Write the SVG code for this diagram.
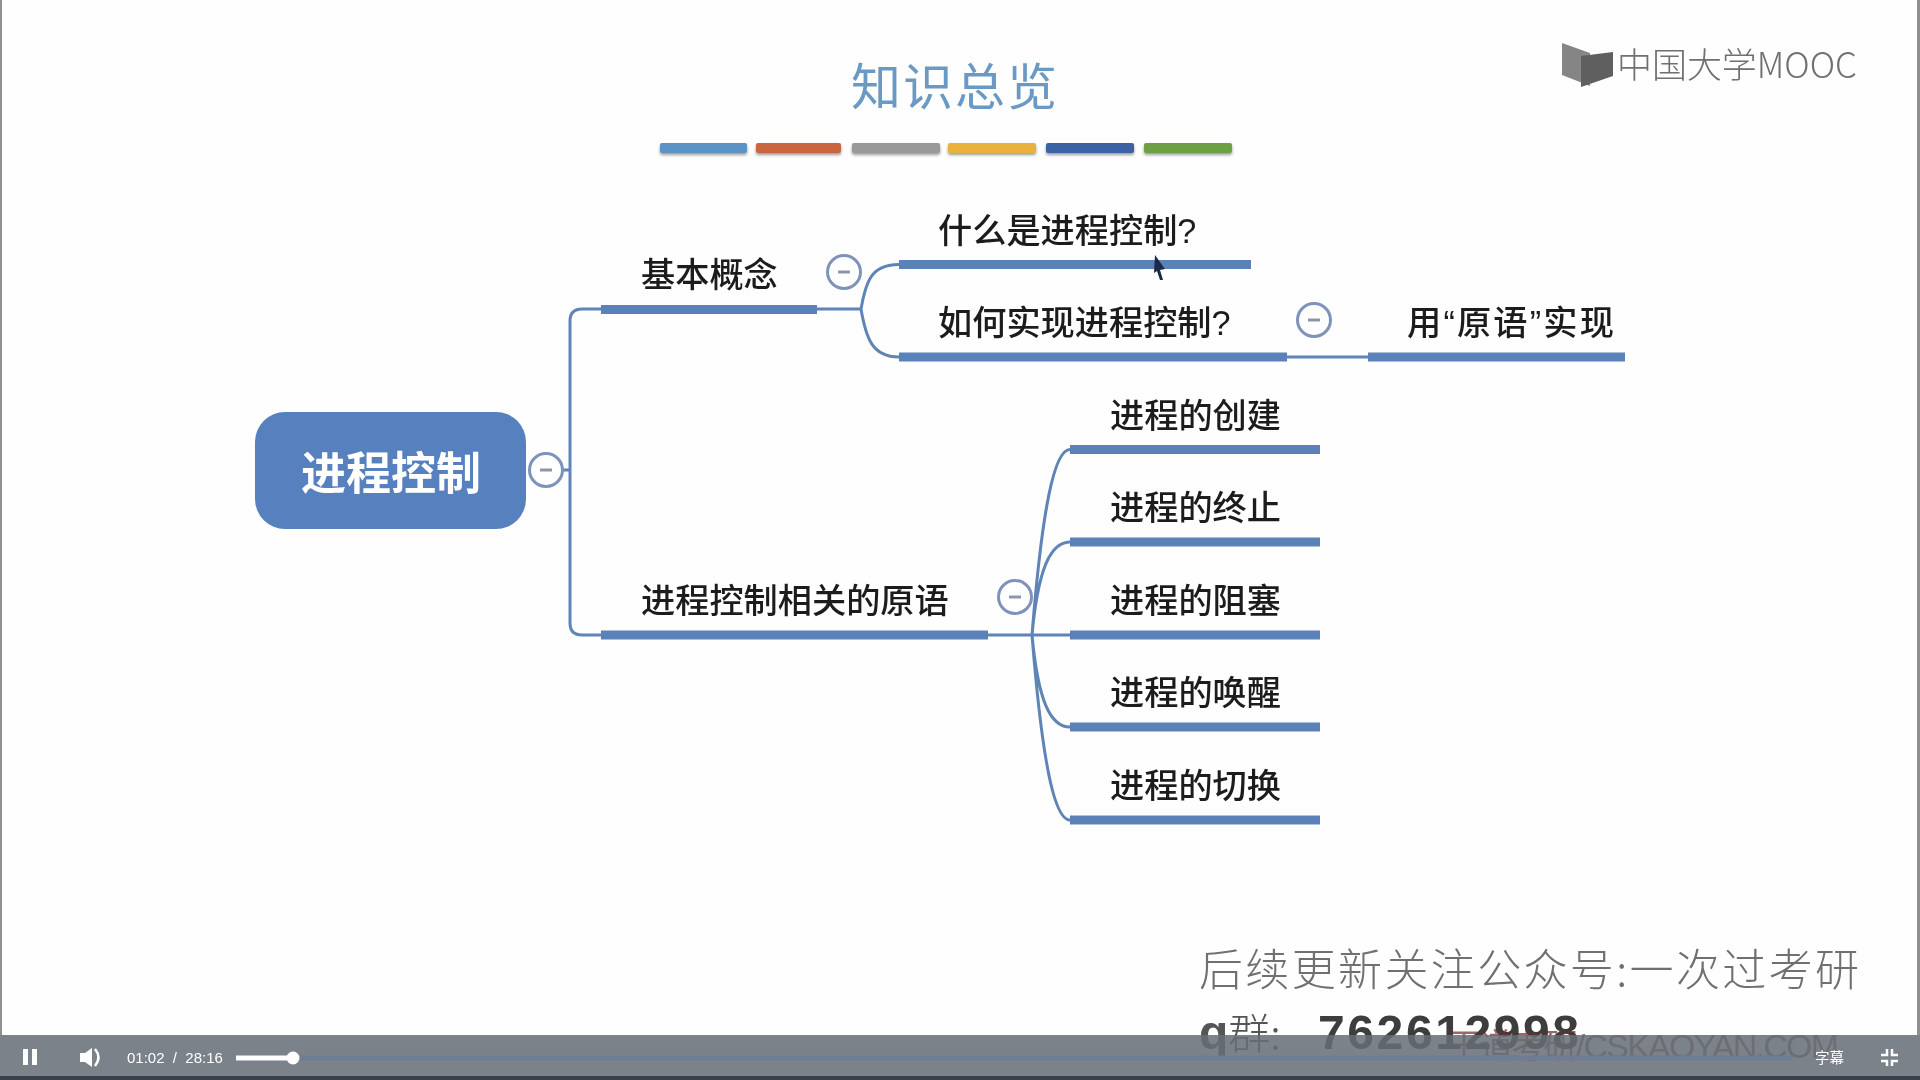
<svg xmlns="http://www.w3.org/2000/svg" width="1920" height="1080" viewBox="0 0 1920 1080">
<style>
text{font-family:"Liberation Sans","Noto Sans CJK SC",sans-serif}
.t{font-size:34.200px;fill:#1c1c1c;font-family:"Noto Sans CJK SC",sans-serif;font-weight:500}
.bar{fill:#5a82b8}
.c{fill:none;stroke:#5f84b6;stroke-width:3}
.btn circle{fill:#fff;stroke:#7d93bb;stroke-width:3}
.btn line{stroke:#8d96a8;stroke-width:3}
.tb{filter:drop-shadow(0 2px 1.5px #9a9a9a)}
</style>
<defs>
<filter id="soft" x="-5%" y="-5%" width="110%" height="110%"><feGaussianBlur stdDeviation="0.7"/></filter>
</defs>
<rect width="1920" height="1080" fill="#fefefe"/>
<g filter="url(#soft)">
<text id="title" x="955" y="105" text-anchor="middle" font-size="50" fill="#6a9ac4" style="font-family:'Noto Sans CJK SC',sans-serif" letter-spacing="2">知识总览</text>
<g id="title-bars">
<rect class="tb" x="660" y="143" width="87" height="10" rx="2" fill="#5b93c6"/>
<rect class="tb" x="756" y="143" width="85" height="10" rx="2" fill="#c9663f"/>
<rect class="tb" x="852" y="143" width="88" height="10" rx="2" fill="#999999"/>
<rect class="tb" x="948" y="143" width="88" height="10" rx="2" fill="#e8b23e"/>
<rect class="tb" x="1046" y="143" width="88" height="10" rx="2" fill="#3b62a4"/>
<rect class="tb" x="1144" y="143" width="88" height="10" rx="2" fill="#6da044"/>
</g>
<g id="logo">
<path d="M1562 43 L1590 53 L1590 86 L1562 75Z" fill="#858585"/>
<path d="M1581 56 L1613 52 L1613 76 L1581 87Z" fill="#5f5f5f"/>
<text x="1617" y="78" font-size="35" fill="#6f6f6f" textLength="240" lengthAdjust="spacingAndGlyphs" style="font-family:'Noto Sans CJK SC',sans-serif;font-weight:300">中国大学MOOC</text>
</g>
<g id="connectors">
<path class="c" d="M530 470H570M601 309H582Q570 309 570 321V623Q570 635 582 635H601"/>
<path class="c" d="M817 309H861M899 264.500C872 264.500 866 280 861 309C866 338 872 357 899 357"/>
<path class="c" d="M1287 357H1368"/>
<path class="c" d="M988 635H1070M1070 449.500C1054 449.500 1042 510 1032 635C1042 760 1054 820 1070 820M1070 542C1050 542 1038 570 1032 635C1038 700 1050 727 1070 727"/>
</g>
<g id="root"><rect x="255" y="412" width="271" height="117" rx="30" fill="#5781be"/><text x="391" y="490" text-anchor="middle" font-size="45" font-weight="700" fill="#fff" style="font-family:'Noto Sans CJK SC',sans-serif">进程控制</text></g>
<g id="toggle-root" class="btn"><circle cx="546" cy="470" r="16.500"/><line x1="540" x2="552" y1="470" y2="470"/></g>
<g id="n-basic"><rect class="bar" x="601" y="305" width="216" height="9"/><text class="t" x="641" y="287">基本概念</text></g>
<g id="toggle-basic" class="btn"><circle cx="844" cy="272" r="16.500"/><line x1="838" x2="850" y1="272" y2="272"/></g>
<g id="n-what"><rect class="bar" x="899" y="260" width="352" height="9"/><text class="t" x="938" y="243">什么是进程控制<tspan font-family="Liberation Sans">?</tspan></text></g>
<g id="n-how"><rect class="bar" x="899" y="352.500" width="388" height="9"/><text class="t" x="938" y="335">如何实现进程控制<tspan font-family="Liberation Sans">?</tspan></text></g>
<g id="toggle-how" class="btn"><circle cx="1314" cy="320" r="16.500"/><line x1="1308" x2="1320" y1="320" y2="320"/></g>
<g id="n-prim"><rect class="bar" x="1368" y="352.500" width="257" height="9"/><text class="t" x="1407" y="335" letter-spacing="2.200">用<tspan font-family="Liberation Sans">“</tspan>原语<tspan font-family="Liberation Sans">”</tspan>实现</text></g>
<g id="n-related"><rect class="bar" x="601" y="630.500" width="387" height="9"/><text class="t" x="641" y="613">进程控制相关的原语</text></g>
<g id="toggle-related" class="btn"><circle cx="1015" cy="597" r="16.500"/><line x1="1009" x2="1021" y1="597" y2="597"/></g>
<g id="n-create"><rect class="bar" x="1070" y="445" width="250" height="9"/><text class="t" x="1110" y="428">进程的创建</text></g>
<g id="n-stop"><rect class="bar" x="1070" y="537.500" width="250" height="9"/><text class="t" x="1110" y="520">进程的终止</text></g>
<g id="n-block"><rect class="bar" x="1070" y="630.500" width="250" height="9"/><text class="t" x="1110" y="613">进程的阻塞</text></g>
<g id="n-wake"><rect class="bar" x="1070" y="722.500" width="250" height="9"/><text class="t" x="1110" y="705">进程的唤醒</text></g>
<g id="n-switch"><rect class="bar" x="1070" y="815.500" width="250" height="9"/><text class="t" x="1110" y="798">进程的切换</text></g>
<path id="cursor" d="M1155 255L1165 269L1160 270L1163 280L1160 280L1157 271L1154 273Z" fill="#1d2a44"/>
<text x="1199" y="986" font-size="44" fill="#6f6f6f" style="font-family:'Noto Sans CJK SC',sans-serif;font-weight:300" textLength="660">后续更新关注公众号:一次过考研</text>
<text x="1199" y="1049" font-size="42" fill="#555" style="font-family:'Noto Sans CJK SC',sans-serif;font-weight:300"><tspan font-weight="700" font-family="Liberation Sans" font-size="48">q</tspan>群:</text>
<text x="1318" y="1049" font-size="48" font-weight="700" letter-spacing="2.600" fill="#3c3c3c">762612998</text>
<text x="1447" y="1058" font-size="34" fill="#6b2b2b" opacity=".7" textLength="392">王道考研/CSKAOYAN.COM</text>
</g>
<g id="player">
<rect x="0" y="1035" width="1920" height="45" fill="#666d76" opacity=".86"/>
<rect x="0" y="1076" width="1920" height="4" fill="#3a4049"/>
<rect x="0" y="0" width="2" height="1035" fill="#8f8f8f"/>
<rect x="1917" y="0" width="3" height="1035" fill="#8f8f8f"/>
<rect x="236" y="1055.500" width="1557" height="5" fill="#6f7c96"/>
<rect x="236" y="1055.500" width="57" height="5" fill="#fff"/>
<circle cx="293" cy="1058" r="6.500" fill="#fff"/>
<rect x="23" y="1049" width="5" height="16" fill="#fff"/><rect x="32" y="1049" width="5" height="16" fill="#fff"/>
<path d="M80 1053H85L92 1048V1067L85 1062H80Z" fill="#fff"/>
<path d="M95 1049Q102 1057.500 95 1066" fill="none" stroke="#fff" stroke-width="2.500"/>
<text x="127" y="1063" font-size="15" fill="#fff" xml:space="preserve">01:02  /  28:16</text>
<text x="1815" y="1063" font-size="14.500" fill="#fff" style="font-family:'Noto Sans CJK SC',sans-serif">字幕</text>
<path d="M1887 1049V1055H1881M1892 1049V1055H1898M1887 1066V1061H1881M1892 1066V1061H1898" fill="none" stroke="#fff" stroke-width="2.500"/>
</g>
</svg>
